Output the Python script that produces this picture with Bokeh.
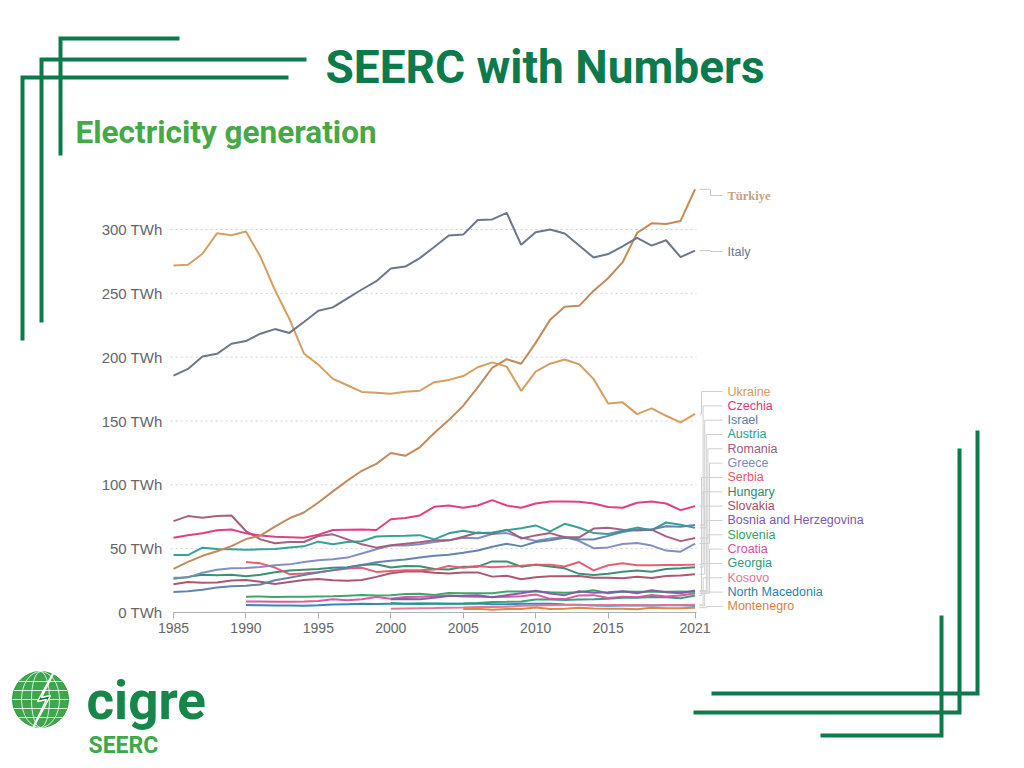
import numpy as np
from bokeh.plotting import figure
from bokeh.models import Range1d, FixedTicker, PrintfTickFormatter, ColumnDataSource
from bokeh.core.properties import value
from bokeh.embed import file_html
from bokeh.resources import INLINE

NAN = float("nan")

# ---------------- data (TWh) ----------------
years = list(range(1985, 2022))
x_ticks = [1985, 1990, 1995, 2000, 2005, 2010, 2015, 2021]
y_ticks = [0, 50, 100, 150, 200, 250, 300]

turkiye = [34.2, 39.7, 44.4, 48.0, 52.0, 57.5, 60.2, 67.3, 73.8, 78.3, 86.2, 94.9, 103.3, 111.0, 116.4,
           124.9, 122.7, 129.4, 140.6, 150.7, 162.0, 176.3, 191.6, 198.4, 194.8, 211.2, 229.4, 239.5,
           240.2, 252.0, 261.8, 274.4, 297.3, 304.8, 304.3, 306.7, 331.5]
italy = [185.5, 190.8, 200.5, 202.6, 210.5, 212.6, 218.4, 222.0, 219.0, 227.6, 236.3, 239.0, 246.0, 253.0,
         259.5, 269.5, 271.0, 277.6, 286.3, 295.3, 296.0, 307.4, 307.9, 313.0, 288.0, 297.9, 300.0, 296.8,
         287.4, 278.0, 280.8, 286.8, 293.4, 287.4, 291.6, 278.4, 283.4]
ukraine = [271.8, 272.4, 281.0, 297.0, 295.5, 298.5, 278.7, 252.6, 229.9, 202.9, 194.0, 183.0, 178.0, 172.8,
           172.1, 171.4, 173.0, 173.7, 180.4, 182.2, 185.2, 192.1, 195.9, 192.6, 173.6, 188.7, 194.9, 198.2,
           194.4, 182.8, 163.7, 164.6, 155.4, 159.9, 154.1, 148.9, 155.5]
czechia = [58.6, 60.5, 62.0, 64.5, 65.0, 62.0, 60.4, 59.4, 59.0, 58.6, 61.0, 64.6, 64.8, 65.0, 64.6, 73.0,
           74.0, 76.0, 82.8, 83.8, 82.0, 83.8, 88.0, 83.8, 82.0, 85.4, 87.0, 87.0, 86.8, 85.4, 82.6, 82.0,
           86.0, 87.0, 85.4, 80.2, 83.3]
israel = [16.1, 16.7, 17.9, 19.5, 20.6, 21.0, 22.0, 25.2, 27.3, 29.4, 31.4, 33.2, 35.0, 37.2, 39.4, 40.5,
          41.5, 43.0, 44.5, 45.2, 46.8, 48.5, 51.5, 53.8, 51.8, 55.2, 56.6, 58.6, 57.3, 57.2, 60.0, 63.0,
          65.0, 65.0, 67.5, 67.2, 68.5]
austria = [45.0, 45.0, 50.8, 49.7, 49.5, 49.2, 49.5, 49.8, 51.0, 51.8, 55.5, 53.5, 55.2, 55.8, 59.5, 60.0,
           60.2, 60.6, 57.3, 62.0, 64.0, 62.0, 62.6, 64.4, 66.0, 68.2, 63.5, 69.5, 66.4, 62.2, 61.5, 64.0,
           66.5, 64.5, 70.5, 68.8, 66.3]
romania = [71.6, 75.5, 74.2, 75.5, 76.0, 63.8, 57.3, 54.2, 55.2, 55.2, 59.9, 61.2, 57.3, 53.4, 50.8, 52.6,
           53.9, 55.0, 56.6, 56.5, 59.4, 62.7, 61.7, 64.9, 58.0, 60.4, 62.2, 59.0, 58.9, 65.7, 66.3, 64.9,
           64.3, 64.9, 59.6, 55.9, 58.3]
greece = [27.3, 27.5, 31.2, 33.5, 34.6, 34.9, 35.7, 37.0, 37.7, 39.6, 41.0, 41.8, 43.0, 46.2, 49.5, 52.4,
          52.5, 53.5, 55.3, 56.5, 58.5, 58.2, 61.5, 62.2, 58.8, 56.1, 58.0, 59.3, 56.0, 50.4, 51.0, 53.7,
          54.5, 52.4, 48.5, 47.6, 54.0]
serbia = [NAN] * 5 + [39.6, 38.5, 35.2, 30.0, 30.5, 31.5, 33.0, 34.5, 35.0, 31.8, 32.5, 33.0, 33.0, 33.6,
                      36.5, 35.0, 36.5, 35.5, 36.0, 36.6, 37.5, 37.5, 36.0, 39.5, 33.0, 37.0, 38.5, 37.0,
                      37.0, 37.3, 37.3, 37.5]
hungary = [26.4, 27.9, 29.6, 29.2, 29.6, 28.4, 29.6, 31.6, 32.9, 33.5, 34.0, 35.1, 35.4, 37.2, 37.8, 35.2,
           36.4, 36.2, 34.1, 33.7, 35.8, 35.9, 40.0, 40.0, 35.9, 37.4, 36.0, 34.6, 30.3, 29.4, 30.3, 31.9,
           32.9, 32.0, 34.1, 34.7, 35.5]
slovakia = [22.1, 23.9, 23.3, 23.5, 25.0, 25.5, 24.0, 22.3, 23.9, 25.4, 26.3, 25.3, 24.8, 25.5, 27.9, 30.8,
            32.1, 32.4, 31.1, 30.6, 31.4, 31.4, 28.1, 28.8, 26.0, 27.7, 28.3, 28.4, 28.6, 27.3, 27.2, 26.9,
            28.0, 27.0, 28.6, 28.9, 30.0]
bosnia = [NAN] * 15 + [10.4, 10.6, 10.4, 11.6, 12.9, 13.1, 13.5, 11.9, 13.5, 15.1, 17.1, 14.9, 13.6, 16.7,
                       15.5, 15.9, 16.7, 15.1, 17.4, 15.9, 15.1, 17.2]
slovenia = [NAN] * 5 + [12.4, 12.6, 12.1, 12.3, 12.4, 12.6, 12.7, 13.2, 13.7, 13.3, 13.6, 14.4, 14.6, 13.8,
                        15.3, 15.1, 15.1, 15.0, 16.4, 16.4, 16.4, 15.9, 15.5, 15.9, 17.4, 15.1, 16.5, 16.3,
                        16.3, 16.2, 16.5, 16.3]
croatia = [NAN] * 5 + [8.7, 8.6, 8.4, 8.4, 8.6, 9.0, 10.4, 9.6, 10.4, 12.2, 10.7, 12.2, 12.3, 12.7, 13.3,
                       12.5, 12.4, 12.2, 12.3, 12.8, 14.1, 10.7, 10.5, 13.4, 13.6, 11.3, 12.4, 11.9, 13.7,
                       12.6, 13.4, 15.0]
georgia = [NAN] * 15 + [7.4, 6.9, 7.2, 7.1, 6.9, 7.1, 7.4, 8.3, 8.4, 8.6, 10.1, 10.2, 9.7, 10.1, 10.4, 10.8,
                        11.6, 11.5, 12.1, 11.9, 11.2, 13.3]
kosovo = [NAN] * 15 + [2.9, 3.1, 3.3, 3.5, 3.8, 4.0, 4.3, 4.3, 4.5, 5.2, 5.4, 5.7, 5.9, 5.9, 5.9, 5.8, 5.8,
                       5.8, 5.6, 5.9, 5.8, 6.1]
north_macedonia = [NAN] * 5 + [5.8, 5.7, 5.5, 5.4, 5.3, 5.6, 6.2, 6.5, 6.8, 6.6, 6.8, 6.9, 6.7, 6.8, 6.8,
                               6.9, 7.0, 6.4, 6.5, 6.8, 6.9, 6.9, 6.2, 6.1, 5.4, 5.3, 5.4, 5.4, 5.4, 5.7,
                               5.6, 5.2]
montenegro = [NAN] * 20 + [2.8, 2.9, 2.2, 2.8, 2.7, 4.0, 2.7, 2.9, 3.8, 3.1, 2.9, 3.0, 2.5, 3.7, 3.3, 3.3,
                           3.8]

top_names = ["Türkiye", "Italy"]
top_values = [turkiye, italy]
top_colors = ["#c38b5c", "#6c7787"]

leg_names = ["Ukraine", "Czechia", "Israel", "Austria", "Romania", "Greece", "Serbia", "Hungary",
             "Slovakia", "Bosnia and Herzegovina", "Slovenia", "Croatia", "Georgia", "Kosovo",
             "North Macedonia", "Montenegro"]
leg_values = [ukraine, czechia, israel, austria, romania, greece, serbia, hungary, slovakia, bosnia,
              slovenia, croatia, georgia, kosovo, north_macedonia, montenegro]
leg_colors = ["#d49a57", "#e0357c", "#5b7ea6", "#2b9c92", "#a0587a", "#7d88c2", "#e6566a", "#2f8a6e",
              "#a64e68", "#7c5aa8", "#35a064", "#dd4f9b", "#2a9c7c", "#e07590", "#2a82b3", "#e0803c"]

# ---------------- layout constants (page pixels) ----------------
W, H = 1016, 760
GREEN = "#0c7a4a"
CH_L, CH_R = 173, 696          # pixel x of 1985 and of X_END
X_END = 2021.1
Y0_PX, Y300_PX = 612, 229      # pixel y of 0 TWh and 300 TWh

sx = (CH_R - CH_L) / (X_END - 1985)
x_start = 1985 - CH_L / sx
sy = (Y0_PX - Y300_PX) / 300.0
y_start = -(H - Y0_PX) / sy

p = figure(width=W, height=H, output_backend="svg", toolbar_location=None,
           x_range=Range1d(x_start, x_start + W / sx), y_range=Range1d(y_start, y_start + H / sy),
           min_border=0, outline_line_color=None,
           background_fill_color="white", border_fill_color="white")
p.extra_x_ranges = {"px": Range1d(0, W)}
p.extra_y_ranges = {"px": Range1d(H, 0)}

# ---------------- axes & grid ----------------
p.xgrid.visible = False
p.ygrid.visible = False
grid_y = [t for t in y_ticks if t > 0]
p.segment(x0=[1984.8] * len(grid_y), x1=[X_END] * len(grid_y), y0=grid_y, y1=grid_y,
          line_color="#d3d3d3", line_dash="2 3", line_width=1)

xa = p.xaxis[0]
xa.fixed_location = 0
xa.bounds = (1985, X_END)
xa.ticker = FixedTicker(ticks=x_ticks)
xa.axis_line_color = "#b0b0b0"
xa.major_tick_line_color = "#b0b0b0"
xa.major_tick_out = 6
xa.major_tick_in = 0
xa.minor_tick_line_color = None
xa.major_label_standoff = 4
xa.major_label_text_font = "Liberation Sans"
xa.major_label_text_font_size = "14px"
xa.major_label_text_color = "#666666"

ya = p.yaxis[0]
ya.fixed_location = 1985
ya.bounds = (0, 300)
ya.ticker = FixedTicker(ticks=y_ticks)
ya.formatter = PrintfTickFormatter(format="%d TWh")
ya.axis_line_color = None
ya.major_tick_line_color = None
ya.minor_tick_line_color = None
ya.major_label_standoff = 5
ya.major_label_text_font = "Liberation Sans"
ya.major_label_text_font_size = "15px"
ya.major_label_text_color = "#666666"

# ---------------- series ----------------
src = {"year": years}
for n, v in zip(top_names + leg_names, top_values + leg_values):
    src[n] = np.array(v, dtype=float)
source = ColumnDataSource(src)

for n, c in reversed(list(zip(leg_names, leg_colors))):
    p.line(x="year", y=n, source=source, line_color=c, line_width=2, line_alpha=0.95)
for n, c in zip(top_names, top_colors):
    p.line(x="year", y=n, source=source, line_color=c, line_width=2)

# ---------------- decorations ----------------
deco_xs = [[179, 60, 60], [306, 41, 41], [288, 22, 22],
           [977, 977, 711], [959, 959, 693], [941, 941, 820]]
deco_ys = [[38, 38, 155], [59, 59, 322], [77, 77, 340],
           [430, 693, 693], [448, 712, 712], [615, 735, 735]]
p.multi_line(xs=deco_xs, ys=deco_ys, line_color=GREEN, line_width=4, line_join="miter",
             line_cap="butt", x_range_name="px", y_range_name="px")

p.text(x=[325], y=[66], text=["SEERC with Numbers"], text_font=value("Roboto"),
       text_font_style="bold", text_font_size="46px", text_color=GREEN,
       text_baseline="middle", text_align="left", x_range_name="px", y_range_name="px")
p.text(x=[75], y=[132], text=["Electricity generation"], text_font=value("Roboto"),
       text_font_style="bold", text_font_size="31.5px", text_color="#46a846",
       text_baseline="middle", text_align="left", x_range_name="px", y_range_name="px")

# ---------------- right-hand labels ----------------
X_START, X_TICK, X_TEXT = 699, 722, 727


def px_to_twh(py):
    return (Y0_PX - py) / sy


top_label_px = [195, 251]
cx, cy = [], []
for vals, lp in zip(top_values, top_label_px):
    ev = vals[-1]
    ly = px_to_twh(lp)
    cx.append([X_START, 710, 710, X_TICK])
    cy.append([ev, ev, ly, ly])
p.multi_line(xs=cx, ys=cy, line_color="#c8c8c8", line_width=1, x_range_name="px")
p.text(x=[X_TEXT], y=[px_to_twh(top_label_px[0])], text=[top_names[0]],
       text_font=value("Liberation Serif"), text_font_style="bold", text_font_size="12.5px",
       text_color="#c9a27f", text_baseline="middle", text_align="left", x_range_name="px")
p.text(x=[X_TEXT], y=[px_to_twh(top_label_px[1])], text=[top_names[1]],
       text_font=value("Liberation Sans"), text_font_size="12.5px",
       text_color="#6c7787", text_baseline="middle", text_align="left", x_range_name="px")

LEG_TOP, LEG_STEP = 391, 14.33
lx, ly_, lt, lc = [], [], [], []
cx, cy = [], []
for i, (n, vals, c) in enumerate(zip(leg_names, leg_values, leg_colors)):
    ev = vals[-1]
    ly = px_to_twh(LEG_TOP + i * LEG_STEP)
    bx = 701 + (i % 6) * 1.6
    cx.append([X_START, bx, bx, X_TICK])
    cy.append([ev, ev, ly, ly])
    lx.append(X_TEXT)
    ly_.append(ly)
    lt.append(n)
    lc.append(c)
p.multi_line(xs=cx, ys=cy, line_color="#cfcfcf", line_width=1, x_range_name="px")
p.text(x=lx, y=ly_, text=lt, text_color=lc, text_font=value("Liberation Sans"),
       text_font_size="12.5px", text_baseline="middle", text_align="left", x_range_name="px")

# ---------------- logo ----------------
gx, gy, gr = 40, 699, 28
p.circle(x=[gx], y=[gy], radius=gr, fill_color="#3ea64c", line_color="#2f9442", line_width=1,
         x_range_name="px", y_range_name="px")
gxs, gys = [], []
for dy in (-18, -9, 0, 9, 18):
    hw = (gr * gr - dy * dy) ** 0.5
    gxs.append([gx - hw, gx + hw])
    gys.append([gy + dy, gy + dy])
p.multi_line(xs=gxs, ys=gys, line_color="white", line_width=1, line_alpha=0.8,
             x_range_name="px", y_range_name="px")
p.ellipse(x=[gx, gx], y=[gy, gy], width=[18, 38], height=[2 * gr, 2 * gr],
          fill_color=None, line_color="white", line_width=1, line_alpha=0.8,
          x_range_name="px", y_range_name="px")
p.patch(x=[62, 37, 46, 24, 50, 41], y=[655, 701, 699, 744, 695, 697],
        fill_color="#0e6e3c", line_color="white", line_width=1.5, x_range_name="px", y_range_name="px")
p.text(x=[86], y=[700], text=["cigre"], text_font=value("Roboto"), text_font_style="bold",
       text_font_size="53px", text_color="#17864a", text_baseline="middle", text_align="left",
       x_range_name="px", y_range_name="px")
p.text(x=[88], y=[745], text=["SEERC"], text_font=value("Roboto"), text_font_style="bold",
       text_font_size="23px", text_color="#3aaa4a", text_baseline="middle", text_align="left",
       x_range_name="px", y_range_name="px")

open("out.html", "w").write(file_html(p, INLINE))
